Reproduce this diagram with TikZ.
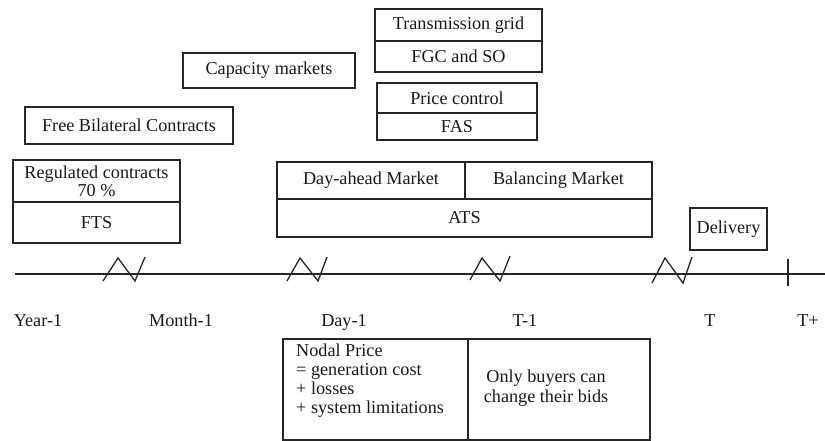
\documentclass[tikz,border=0pt]{standalone}
\usepackage{fontspec}
\setmainfont{Liberation Serif}
\begin{document}
\begin{tikzpicture}[x=1pt,y=-1pt,
  cell/.style={draw=black!85,line width=1.3pt,inner sep=0pt,minimum width=#1},
  txt/.style={inner sep=0pt,text=black!90},
  brk/.style={line width=1.3pt,draw=black!85},
  tline/.style={line width=1.3pt,draw=black!85},
  tlab/.style={anchor=base,inner sep=0pt}]
\useasboundingbox (0,0) rectangle (825,441);
\tikzset{every node/.append style={font=\fontsize{18.2}{18}\selectfont,text=black!90}}
% Regulated contracts / FTS
\node[cell=167pt,minimum height=42pt,align=center] (reg) at (96.5,181) {Regulated contracts\\70 \%};
\node[cell=167pt,minimum height=41pt] (fts) at (96.5,222.5) {FTS};
% Free bilateral contracts
\node[cell=208pt,minimum height=37pt] (fbc) at (129,125.5) {Free Bilateral Contracts};
% Capacity markets
\node[cell=172pt,minimum height=35pt] (cap) at (269,70.5) {Capacity markets};
% Transmission grid
\node[cell=167pt,minimum height=32pt] (tg) at (458.5,25) {Transmission grid};
\node[cell=167pt,minimum height=31pt] (fgc) at (458.5,56.5) {FGC and SO};
% Price control
\node[cell=160pt,minimum height=30pt] (pc) at (457,98) {Price control};
\node[cell=160pt,minimum height=27pt] (fas) at (457,126.5) {FAS};
% Day-ahead / Balancing / ATS
\node[cell=188pt,minimum height=37pt] (dam) at (371,180.5) {Day-ahead Market};
\node[cell=187pt,minimum height=37pt] (bal) at (558.5,180.5) {\raisebox{2pt}{Balancing Market}};
\node[cell=375pt,minimum height=38pt] (ats) at (464.5,218) {ATS};
% Delivery
\node[cell=77pt,minimum height=42pt] (del) at (728.5,229) {\raisebox{-2pt}{Delivery}};
% Bottom boxes
\node[cell=185pt,minimum height=101pt] (nodal) at (375.5,389.5) {};
\node[cell=182pt,minimum height=101pt] (only) at (559,389.5) {};
\node[txt,anchor=north west,align=left,font=\fontsize{18.2}{19}\selectfont] (nodaltxt) at (296,344) {Nodal Price\\= generation cost\\+ losses\\+ system limitations};
\node[txt,align=center,font=\fontsize{18.2}{19.5}\selectfont] (onlytxt) at (546,388) {Only buyers can\\change their bids};
% Timeline
\coordinate (tl0) at (15,274);
\coordinate (tl1) at (826,274);
\draw[tline] (tl0) -- (tl1);
\draw[brk] (103,281) -- (118,258) -- (135,281) -- (145,257);
\draw[brk] (287,281) -- (300,258) -- (318,281) -- (327,257);
\draw[brk] (470,280) -- (482,258) -- (500,281) -- (510,256);
\draw[brk] (652,283) -- (665,258) -- (683,283) -- (692,257);
\coordinate (tk0) at (788,259);
\coordinate (tk1) at (788,286);
\draw[tline] (tk0) -- (tk1);
% Time labels
\node[tlab] (y1) at (38,326) {Year-1};
\node[tlab] (m1) at (181,326) {Month-1};
\node[tlab] (d1) at (344,326) {Day-1};
\node[tlab] (t1) at (525,326) {T-1};
\node[tlab] (t0) at (710,326) {T};
\node[tlab] (tp) at (808,326) {T+};
\end{tikzpicture}
\end{document}
